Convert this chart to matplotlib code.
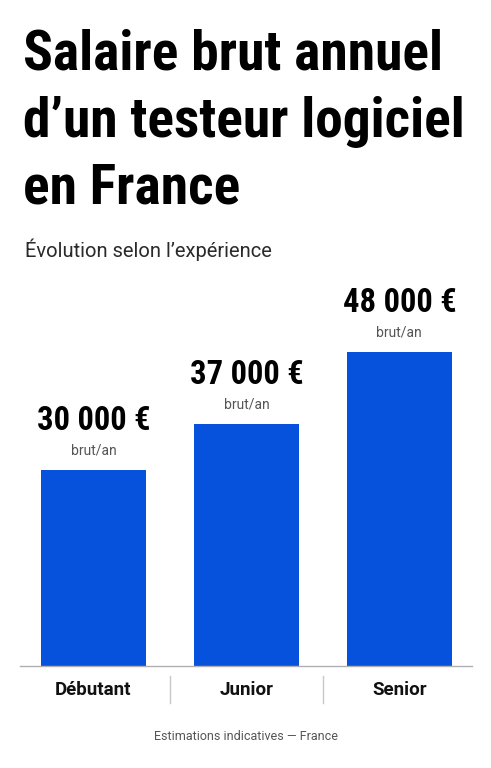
import matplotlib
matplotlib.use('Agg')
import matplotlib.pyplot as plt
from matplotlib import font_manager

categories = ['Débutant', 'Junior', 'Senior']
salaries = [30000, 37000, 48000]
value_labels = ['30 000 €', '37 000 €', '48 000 €']
unit_label = 'brut/an'
title_lines = ['Salaire brut annuel', 'd’un testeur logiciel', 'en France']
subtitle = 'Évolution selon l’expérience'
footer = 'Estimations indicatives — France'

bar_color = '#0652DD'


def pick_font(names):
    for n in names:
        try:
            font_manager.findfont(font_manager.FontProperties(family=n),
                                  fallback_to_default=False)
            return n
        except Exception:
            pass
    return 'DejaVu Sans'


narrow = pick_font(['Liberation Sans Narrow', 'DejaVu Sans Condensed', 'Roboto Condensed'])
body = pick_font(['Roboto', 'Inter', 'DejaVu Sans'])

W, H = 491, 768
fig = plt.figure(figsize=(W / 100, H / 100), dpi=100)
fig.patch.set_facecolor('white')

def fx(px):
    return px / W

def fy(py):
    return 1 - py / H

# title block
title_base = [69, 137, 203]
for line, yb in zip(title_lines, title_base):
    fig.text(fx(23), fy(yb), line, fontsize=40, fontweight='bold',
             family=narrow, color='#000000', va='baseline', ha='left')
fig.text(fx(25), fy(257), subtitle, fontsize=14.5, family=body,
         color='#2a2a2a', va='baseline', ha='left')

# chart
ax = fig.add_axes([fx(20), fy(666), fx(472) - fx(20), fy(280) - fy(666)])
x = range(len(categories))
ax.bar(x, salaries, width=0.69, color=bar_color, zorder=2)
ax.set_xlim(-0.48, 2.475)
ax.set_ylim(0, 59000)
for s in ['top', 'right', 'left']:
    ax.spines[s].set_visible(False)
ax.spines['bottom'].set_color('#b0b0b0')
ax.spines['bottom'].set_linewidth(1)
ax.set_yticks([])
ax.set_xticks([])

for i, (v, lab) in enumerate(zip(salaries, value_labels)):
    ax.annotate(unit_label, (i, v), xytext=(0, 13.7), textcoords='offset points',
                ha='center', va='center', fontsize=10, family=body, color='#555555')
    ax.annotate(lab, (i, v), xytext=(0, 35), textcoords='offset points',
                ha='center', va='center', fontsize=23.5, fontweight='bold',
                family=narrow, color='#000000')

# category labels and separators under the axis
for i, c in enumerate(categories):
    ax.annotate(c, (i, 0), xytext=(0, -17.5), textcoords='offset points',
                ha='center', va='center', fontsize=13.5, fontweight='bold',
                family=body, color='#111111', annotation_clip=False)
for sep in [0.5, 1.5]:
    ax.plot([sep, sep], [-0.026 * 59000, -0.096 * 59000], color='#c8c8c8',
            lw=1, clip_on=False)

fig.text(0.5, fy(737), footer, fontsize=9, family=body, color='#555555',
         ha='center', va='center')

fig.savefig('out.png', dpi=100, facecolor='white')
